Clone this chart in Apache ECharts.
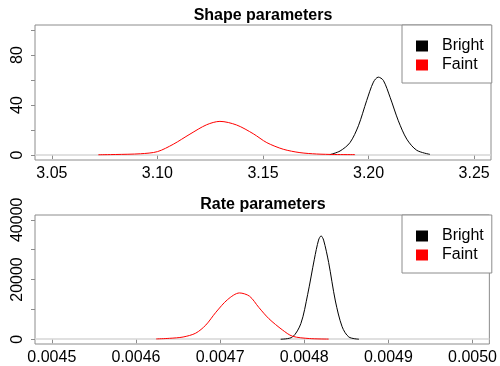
<!DOCTYPE html>
<html>
<head>
<meta charset="utf-8">
<script src="https://cdn.jsdelivr.net/npm/echarts@6/dist/echarts.min.js"></script>
<style>
  html, body { margin: 0; padding: 0; background: #fff; }
  #main { width: 500px; height: 366px; }
</style>
</head>
<body>
<div id="main"></div>
<script>
// shape parameter densities
const shapeBrightX = [3.1817, 3.1865, 3.1912, 3.1952, 3.1991, 3.2023, 3.2046, 3.2070, 3.2102, 3.2141, 3.2181, 3.2228, 3.2291];
const shapeBrightY = [0.3, 3.2, 9.9, 23.4, 43.5, 58.3, 62.3, 59.7, 46.2, 27.4, 12.7, 3.8, 0.5];
const shapeFaintX = [3.072, 3.080, 3.092, 3.100, 3.1075, 3.1154, 3.1233, 3.1296, 3.1375, 3.1454, 3.1518, 3.1596, 3.1675, 3.1754, 3.184, 3.1936];
const shapeFaintY = [0.2, 0.4, 1.0, 2.7, 8.6, 16.7, 24.2, 26.9, 24.0, 17.0, 9.9, 4.6, 1.9, 0.8, 0.4, 0.3];

// rate parameter densities
const rateBrightX = [0.004772, 0.004786, 0.004796, 0.004804, 0.004812, 0.004817, 0.004820, 0.004823, 0.004829, 0.004837, 0.004845, 0.004853, 0.004865];
const rateBrightY = [0, 740, 5260, 14900, 26800, 33200, 34600, 33200, 25700, 12800, 4190, 740, 0];
const rateFaintX = [0.004624, 0.004640, 0.004656, 0.004671, 0.004683, 0.004695, 0.004709, 0.004723, 0.004735, 0.004746, 0.004758, 0.004774, 0.004786, 0.004806, 0.004829];
const rateFaintY = [100, 300, 740, 2030, 4740, 9030, 13300, 15500, 14400, 10650, 6870, 3130, 1000, 230, 50];

// ticks
const shapeXTicks = [3.05, 3.10, 3.15, 3.20, 3.25];
const shapeYTicks = [0, 20, 40, 60, 80, 100];
const shapeYLabels = [0, 40, 80];
const rateXTicks = [0.0045, 0.0046, 0.0047, 0.0048, 0.0049, 0.0050];
const rateYTicks = [0, 10000, 20000, 30000, 40000];
const rateYLabels = [0, 20000, 40000];

const legendNames = ['Bright', 'Faint'];

const pairs = (xs, ys) => xs.map((x, i) => [x, ys[i]]);
const boxGrey = '#8c8c8c';
const font = 'Liberation Sans, Arial, sans-serif';

function xAxisOpt(idx, min, max, ticks, digits) {
  return {
    type: 'value', gridIndex: idx, min: min, max: max,
    splitLine: { show: false },
    axisLine: { show: false },
    axisTick: { show: true, length: 4, lineStyle: { color: boxGrey }, customValues: ticks },
    axisLabel: {
      customValues: ticks, margin: 6, color: '#000', fontSize: 16, fontFamily: font,
      formatter: v => v.toFixed(digits)
    }
  };
}

function yAxisOpt(idx, min, max, ticks, labels) {
  return {
    type: 'value', gridIndex: idx, min: min, max: max,
    splitLine: { show: false },
    axisLine: { show: false },
    axisTick: { show: true, length: 4, lineStyle: { color: boxGrey }, customValues: ticks },
    axisLabel: {
      customValues: labels, margin: 9, rotate: 90, color: '#000', fontSize: 16, fontFamily: font,
      formatter: v => String(v)
    }
  };
}

function lineSeries(name, idx, xs, ys, color, zeroLine) {
  const s = {
    name: name, type: 'line', xAxisIndex: idx, yAxisIndex: idx,
    data: pairs(xs, ys), smooth: 0.3, showSymbol: false,
    lineStyle: { color: color, width: 1 }, itemStyle: { color: color },
    z: 3
  };
  if (zeroLine) {
    s.markLine = {
      silent: true, symbol: ['none', 'none'], label: { show: false },
      lineStyle: { color: '#d6d6d6', width: 1.5, type: 'solid' },
      data: [{ yAxis: 0 }], z: 1
    };
  }
  return s;
}

function legendOpt(top) {
  return {
    data: legendNames, orient: 'vertical', left: 402, top: top,
    padding: [13, 8, 10, 14], itemGap: 3,
    itemWidth: 12, itemHeight: 11, icon: 'rect',
    borderColor: boxGrey, borderWidth: 1, backgroundColor: '#fff',
    textStyle: { fontSize: 16, lineHeight: 16, color: '#000', fontFamily: font, padding: [0, 0, 0, 9] },
    selectedMode: false
  };
}

const chart = echarts.init(document.getElementById('main'));
chart.setOption({
  animation: false,
  backgroundColor: '#fff',
  title: [
    { text: 'Shape parameters', left: 263, top: 8, textAlign: 'center', padding: 0,
      textStyle: { fontSize: 16, fontWeight: 'bold', color: '#000', fontFamily: font } },
    { text: 'Rate parameters', left: 263, top: 197, textAlign: 'center', padding: 0,
      textStyle: { fontSize: 16, fontWeight: 'bold', color: '#000', fontFamily: font } }
  ],
  grid: [
    { left: 35, width: 456, top: 25, height: 135, show: true, borderColor: boxGrey, borderWidth: 1, backgroundColor: 'transparent' },
    { left: 35, width: 456, top: 215, height: 132, show: true, borderColor: boxGrey, borderWidth: 1, backgroundColor: 'transparent' }
  ],
  xAxis: [
    xAxisOpt(0, 3.042, 3.258, shapeXTicks, 2),
    xAxisOpt(1, 0.00448, 0.00502, rateXTicks, 4)
  ],
  yAxis: [
    yAxisOpt(0, -4, 104, shapeYTicks, shapeYLabels),
    yAxisOpt(1, -1600, 41600, rateYTicks, rateYLabels)
  ],
  legend: [legendOpt(25), legendOpt(215)],
  series: [
    lineSeries('Bright', 0, shapeBrightX, shapeBrightY, '#000', true),
    lineSeries('Faint', 0, shapeFaintX, shapeFaintY, '#ff0000', false),
    lineSeries('Bright', 1, rateBrightX, rateBrightY, '#000', true),
    lineSeries('Faint', 1, rateFaintX, rateFaintY, '#ff0000', false)
  ]
});
</script>
</body>
</html>
